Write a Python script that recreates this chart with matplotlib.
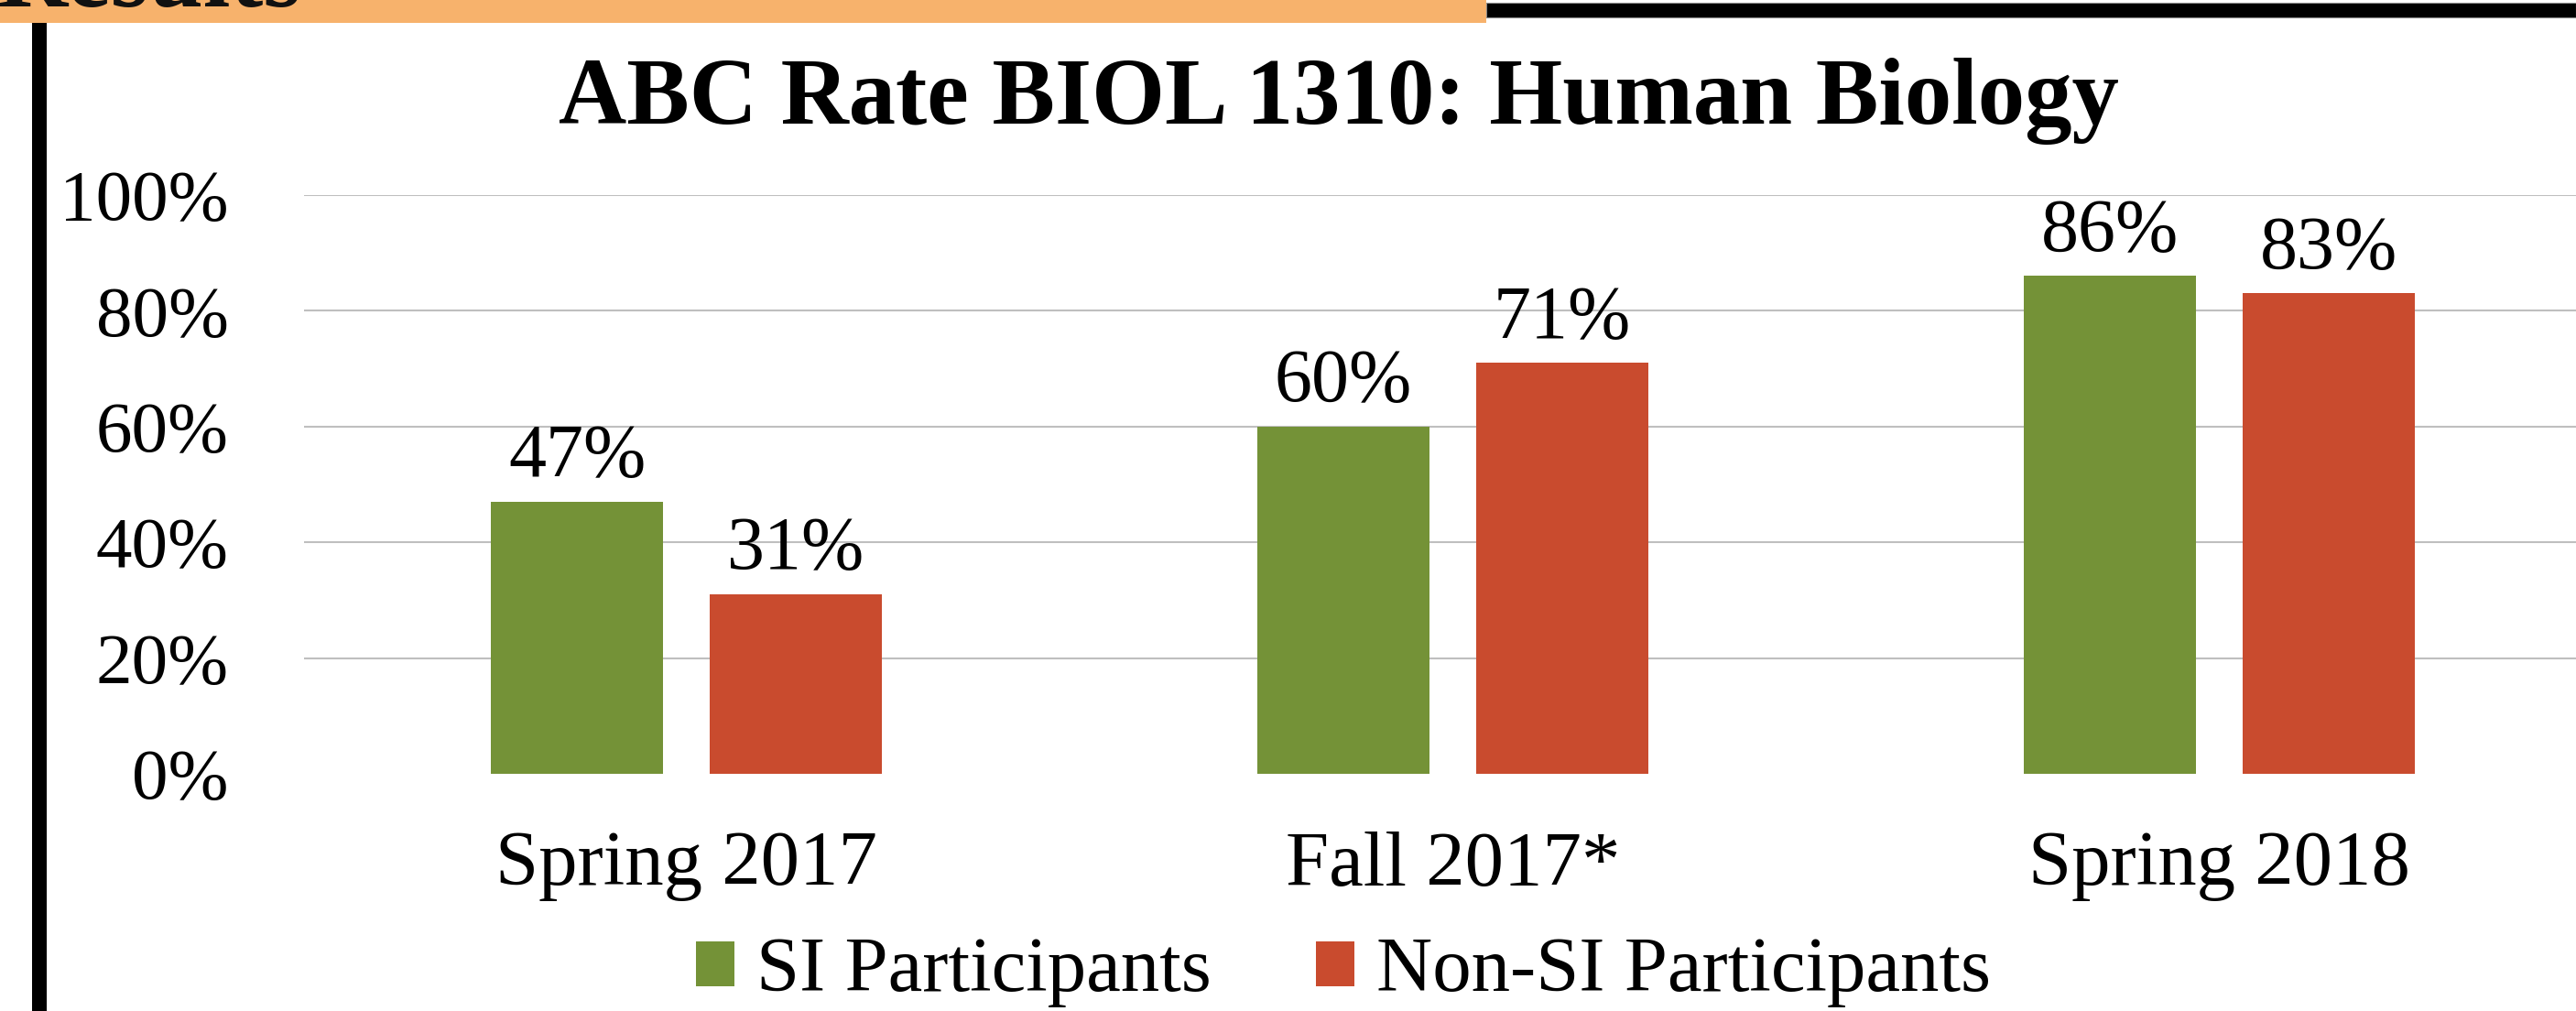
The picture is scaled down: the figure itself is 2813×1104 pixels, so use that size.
import matplotlib.pyplot as plt
from matplotlib.patches import Rectangle
from matplotlib.ticker import PercentFormatter

# chart data
terms = ["Spring 2017", "Fall 2017*", "Spring 2018"]
si_rate = [47, 60, 86]
non_si_rate = [31, 71, 83]
series_names = ["SI Participants", "Non-SI Participants"]
y_ticks = [0, 20, 40, 60, 80, 100]

green = "#749237"
red = "#C94B2E"
orange = "#F7B26C"

plt.rcParams['font.family'] = ['Liberation Serif', 'DejaVu Serif']

W, H = 2813, 1104
fig = plt.figure(figsize=(W / 100, H / 100), dpi=100)

# slide decorations: orange header strip, black bar, left rule
fig.patches.append(Rectangle((0, 1 - 25 / H), 1623 / W, 25 / H, transform=fig.transFigure,
                             facecolor=orange, edgecolor='none', zorder=0))
fig.patches.append(Rectangle((1623 / W, 1 - 19 / H), (W - 1623) / W, 16 / H, transform=fig.transFigure,
                             facecolor='black', edgecolor='#888888', linewidth=0.8, zorder=0))
fig.patches.append(Rectangle((35 / W, 0), 16 / W, 1 - 25 / H, transform=fig.transFigure,
                             facecolor='black', edgecolor='none', zorder=0))
fig.text(-4 / W, 1 - 7 / H, "Results", fontsize=77, fontweight='bold', color='#111111',
         ha='left', va='baseline')

ax = fig.add_axes([331.6 / W, 259 / H, 2510 / W, 632 / H])

x = range(len(terms))
bw = 0.2247
off = 0.1428
b1 = ax.bar([i - off for i in x], si_rate, width=bw, color=green, label=series_names[0], zorder=2)
b2 = ax.bar([i + off for i in x], non_si_rate, width=bw, color=red, label=series_names[1], zorder=2)

for bars, vals in ((b1, si_rate), (b2, non_si_rate)):
    for rect, v in zip(bars, vals):
        ax.annotate(f"{v}%", (rect.get_x() + rect.get_width() / 2, v), xytext=(0, 20),
                    textcoords='offset points', ha='center', va='baseline', fontsize=59)

ax.set_xlim(-0.5, 2.5)
ax.set_ylim(0, 100)
ax.set_yticks(y_ticks)
ax.yaxis.set_major_formatter(PercentFormatter(decimals=0))
ax.set_xticks(list(x))
ax.set_xticklabels(terms)
ax.tick_params(axis='y', length=0, pad=59, labelsize=57)
ax.tick_params(axis='x', length=0, pad=45, labelsize=61)
ax.grid(axis='y', color='#BFBFBF', linewidth=1.5, zorder=0)
ax.get_ygridlines()[0].set_visible(False)
ax.set_axisbelow(True)
for s in ax.spines.values():
    s.set_visible(False)

fig.text(1462 / W, 1 - 135 / H, "ABC Rate BIOL 1310: Human Biology", fontsize=74,
         fontweight='bold', ha='center', va='baseline')

fig.legend(handles=[b1, b2], loc='center', bbox_to_anchor=(1467 / W, 1 - 1062 / H), ncol=2,
           frameon=False, fontsize=61, handlelength=0.5, handleheight=0.5,
           handletextpad=0.28, columnspacing=1.35, borderpad=0, borderaxespad=0)

fig.savefig("out.png", dpi=100)
